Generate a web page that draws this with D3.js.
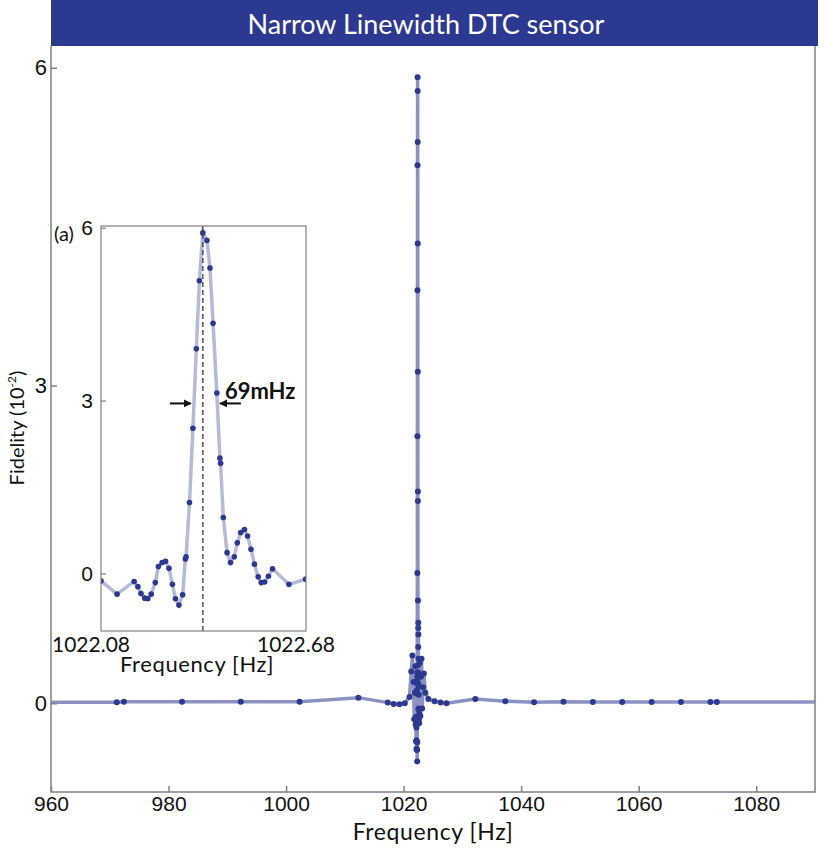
<!DOCTYPE html>
<html>
<head>
<meta charset="utf-8">
<script src="https://cdn.jsdelivr.net/npm/d3@7"></script>
<style>
  body { margin: 0; background: #fff; }
  svg { display: block; font-family: "Lato", "Open Sans", sans-serif; }
</style>
</head>
<body>
<svg width="824" height="848"></svg>
<script>
const width = 824, height = 848;
const svg = d3.select("svg");

// zoomed data around the resonance (inset)
const insetFreq = [1022.080, 1022.127, 1022.177, 1022.188, 1022.197, 1022.208, 1022.217, 1022.227,
  1022.239, 1022.248, 1022.259, 1022.269, 1022.279, 1022.289, 1022.298, 1022.308, 1022.319,
  1022.327, 1022.329, 1022.339, 1022.349, 1022.359, 1022.368, 1022.378, 1022.390, 1022.399,
  1022.408, 1022.419, 1022.428, 1022.430, 1022.438, 1022.449, 1022.459, 1022.470, 1022.479,
  1022.489, 1022.500, 1022.509, 1022.519, 1022.529, 1022.540, 1022.549, 1022.559, 1022.570,
  1022.582, 1022.630, 1022.679];
const insetFid = [-0.13, -0.36, -0.14, -0.23, -0.35, -0.43, -0.44, -0.36,
  -0.16, 0.12, 0.19, 0.21, 0.09, -0.19, -0.44, -0.55, -0.37,
  0.25, 0.29, 1.23, 2.52, 3.90, 5.08, 5.91, 5.78, 5.30,
  4.34, 3.13, 2.00, 1.91, 0.97, 0.36, 0.19, 0.29, 0.53,
  0.71, 0.76, 0.65, 0.42, 0.16, -0.06, -0.16, -0.15, -0.05,
  0.08, -0.19, -0.10];

// wide scan points (outside the inset window)
const mainFreq = [955.3, 971.2, 972.4, 982.3, 992.3, 1002.3, 1012.3, 1017.3, 1018.3, 1019.3, 1020.2,
  1021.0, 1021.3, 1021.5, 1021.7, 1021.8, 1021.9, 1022.0, 1022.05,
  1022.75, 1022.85, 1022.95, 1023.05, 1023.15, 1023.3, 1023.45, 1023.7,
  1024.2, 1025.25, 1026.3, 1027.3, 1032.2, 1037.3, 1042.2, 1047.2, 1052.2, 1057.2,
  1062.2, 1067.2, 1072.2, 1073.3, 1095.0];
const mainFid = [0.01, 0.01, 0.015, 0.015, 0.015, 0.015, 0.053, 0.006, -0.007, -0.01, 0.0,
  0.06, 0.30, 0.45, 0.20, -0.15, 0.10, 0.35, -0.20,
  0.38, -0.12, 0.25, 0.42, -0.05, 0.15, 0.28, 0.10,
  0.04, 0.02, 0.006, 0.0, 0.04, 0.02, 0.01, 0.015, 0.012, 0.012,
  0.012, 0.012, 0.012, 0.012, 0.012];

const titleText = "Narrow Linewidth DTC sensor";
const xTicks = [960, 980, 1000, 1020, 1040, 1060, 1080];
const yTicks = [0, 3, 6];
const insetYTicks = [0, 3, 6];
const peakFreq = 1022.378;
const fwhmEdges = [1022.343, 1022.428];

const dotColor = "#2b3990";
const axisColor = "#808080";

// main plot frame
const m = { left: 51, right: 815, top: 46, bottom: 792 };
const xScale = d3.scaleLinear().domain([960, 1090]).range([m.left, m.right]);
const yScale = d3.scaleLinear().domain([-0.838, 6.206]).range([m.bottom, m.top]);

// title bar
svg.append("rect")
  .attr("x", m.left).attr("y", 0)
  .attr("width", 818 - m.left).attr("height", m.top)
  .attr("fill", "#2b3990");
svg.append("text")
  .attr("x", 426).attr("y", 25)
  .attr("text-anchor", "middle").attr("dy", "0.35em")
  .attr("fill", "#fff")
  .style("font-size", "27px")
  .text(titleText);

svg.append("defs").append("clipPath").attr("id", "mainClip")
  .append("rect")
  .attr("x", m.left).attr("y", m.top)
  .attr("width", m.right - m.left).attr("height", m.bottom - m.top);

// merge all points for the main trace
const allPts = mainFreq.map((f, i) => ({ f, v: mainFid[i] }))
  .concat(insetFreq.map((f, i) => ({ f, v: insetFid[i] })))
  .sort((a, b) => a.f - b.f);

const mainG = svg.append("g").attr("clip-path", "url(#mainClip)");
mainG.append("path")
  .datum(allPts)
  .attr("fill", "none")
  .attr("stroke", dotColor)
  .attr("stroke-opacity", 0.55)
  .attr("stroke-width", 3.5)
  .attr("d", d3.line().x(d => xScale(d.f)).y(d => yScale(d.v)));
mainG.selectAll(".mdot")
  .data(allPts)
  .enter().append("circle")
  .attr("class", "mdot")
  .attr("cx", d => xScale(d.f))
  .attr("cy", d => yScale(d.v))
  .attr("r", 3)
  .attr("fill", dotColor);

// frame lines
svg.append("path")
  .attr("d", `M${m.left},${m.top}V${m.bottom}H${m.right}V${m.top}`)
  .attr("fill", "none").attr("stroke", axisColor).attr("stroke-width", 1.5);

// x axis
const xAxis = svg.append("g")
  .attr("transform", `translate(0,${m.bottom})`)
  .call(d3.axisBottom(xScale).tickValues(xTicks).tickFormat(d3.format("d"))
    .tickSizeInner(-6).tickSizeOuter(0).tickPadding(4));
xAxis.select(".domain").remove();
xAxis.selectAll("line").attr("stroke", axisColor).attr("stroke-width", 1.5);
xAxis.selectAll("text").style("font-size", "21px").attr("fill", "#111");

// y axis
const yAxis = svg.append("g")
  .attr("transform", `translate(${m.left},0)`)
  .call(d3.axisLeft(yScale).tickValues(yTicks).tickFormat(d3.format("d"))
    .tickSizeInner(-6).tickSizeOuter(0).tickPadding(4));
yAxis.select(".domain").remove();
yAxis.selectAll("line").attr("stroke", axisColor).attr("stroke-width", 1.5);
yAxis.selectAll("text").style("font-size", "22px").attr("fill", "#111");

svg.append("text")
  .attr("x", (m.left + m.right) / 2).attr("y", 840)
  .attr("text-anchor", "middle")
  .style("font-size", "23px").style("letter-spacing", "0.6px").attr("fill", "#111")
  .text("Frequency [Hz]");

const yLab = svg.append("text")
  .attr("transform", `translate(24,428) rotate(-90)`)
  .attr("text-anchor", "middle")
  .style("font-size", "20px").attr("fill", "#111");
yLab.append("tspan").text("Fidelity (10");
yLab.append("tspan").attr("dy", -8).style("font-size", "12px").text("-2");
yLab.append("tspan").attr("dy", 8).text(")");

// inset
const ins = { left: 101, right: 306, top: 226, bottom: 631 };
const ixScale = d3.scaleLinear().domain([1022.08, 1022.68]).range([ins.left, ins.right]);
const iyScale = d3.scaleLinear().domain([-1.0, 6.03]).range([ins.bottom, ins.top]);

svg.append("rect")
  .attr("x", ins.left).attr("y", ins.top)
  .attr("width", ins.right - ins.left).attr("height", ins.bottom - ins.top)
  .attr("fill", "#fff");

svg.select("defs").append("clipPath").attr("id", "insClip")
  .append("rect")
  .attr("x", ins.left).attr("y", ins.top)
  .attr("width", ins.right - ins.left).attr("height", ins.bottom - ins.top);

const insPts = insetFreq.map((f, i) => ({ f, v: insetFid[i] }));
const insG = svg.append("g").attr("clip-path", "url(#insClip)");

insG.append("line")
  .attr("x1", ixScale(peakFreq)).attr("x2", ixScale(peakFreq))
  .attr("y1", ins.top).attr("y2", ins.bottom)
  .attr("stroke", "#555").attr("stroke-width", 1.5)
  .attr("stroke-dasharray", "5,3");

insG.append("path")
  .datum(insPts)
  .attr("fill", "none")
  .attr("stroke", dotColor)
  .attr("stroke-opacity", 0.35)
  .attr("stroke-width", 3.5)
  .attr("d", d3.line().x(d => ixScale(d.f)).y(d => iyScale(d.v)));
insG.selectAll(".idot")
  .data(insPts)
  .enter().append("circle")
  .attr("class", "idot")
  .attr("cx", d => ixScale(d.f))
  .attr("cy", d => iyScale(d.v))
  .attr("r", 2.8)
  .attr("fill", dotColor);

svg.append("rect")
  .attr("x", ins.left).attr("y", ins.top)
  .attr("width", ins.right - ins.left).attr("height", ins.bottom - ins.top)
  .attr("fill", "none").attr("stroke", axisColor).attr("stroke-width", 1.2);

const iyAxis = svg.append("g")
  .attr("transform", `translate(${ins.left},0)`)
  .call(d3.axisLeft(iyScale).tickValues(insetYTicks).tickFormat(d3.format("d"))
    .tickSizeInner(-5).tickSizeOuter(0).tickPadding(8));
iyAxis.select(".domain").remove();
iyAxis.selectAll("line").attr("stroke", axisColor).attr("stroke-width", 1.2);
iyAxis.selectAll("text").style("font-size", "21px").attr("fill", "#111");

svg.selectAll(".ixlab")
  .data([1022.08, 1022.68])
  .enter().append("text")
  .attr("class", "ixlab")
  .attr("x", d => ixScale(d) - 10)
  .attr("y", 652)
  .attr("text-anchor", "middle")
  .style("font-size", "21px").attr("fill", "#111")
  .text(d => d3.format(".2f")(d));

svg.append("text")
  .attr("x", 197).attr("y", 672)
  .attr("text-anchor", "middle")
  .style("font-size", "22px").style("letter-spacing", "0.6px").attr("fill", "#111")
  .text("Frequency [Hz]");

svg.append("text")
  .attr("x", 54).attr("y", 241)
  .style("font-size", "20px").attr("fill", "#111")
  .text("(a)");

// FWHM arrows
const defs = svg.select("defs");
defs.append("marker")
  .attr("id", "arrowHead")
  .attr("viewBox", "0 0 10 10")
  .attr("refX", 9).attr("refY", 5)
  .attr("markerWidth", 4).attr("markerHeight", 4)
  .attr("orient", "auto")
  .append("path").attr("d", "M0,0L10,5L0,10Z").attr("fill", "#111");

const halfMax = 2.95;
svg.append("line")
  .attr("x1", ixScale(fwhmEdges[0]) - 21).attr("x2", ixScale(fwhmEdges[0]))
  .attr("y1", iyScale(halfMax)).attr("y2", iyScale(halfMax))
  .attr("stroke", "#111").attr("stroke-width", 2)
  .attr("marker-end", "url(#arrowHead)");
svg.append("line")
  .attr("x1", ixScale(fwhmEdges[1]) + 21).attr("x2", ixScale(fwhmEdges[1]))
  .attr("y1", iyScale(halfMax)).attr("y2", iyScale(halfMax))
  .attr("stroke", "#111").attr("stroke-width", 2)
  .attr("marker-end", "url(#arrowHead)");
svg.append("text")
  .attr("x", ixScale(fwhmEdges[1]) + 5).attr("y", iyScale(halfMax) - 4)
  .style("font-size", "22px").style("font-weight", "bold").attr("fill", "#111")
  .text("69mHz");
</script>
</body>
</html>
